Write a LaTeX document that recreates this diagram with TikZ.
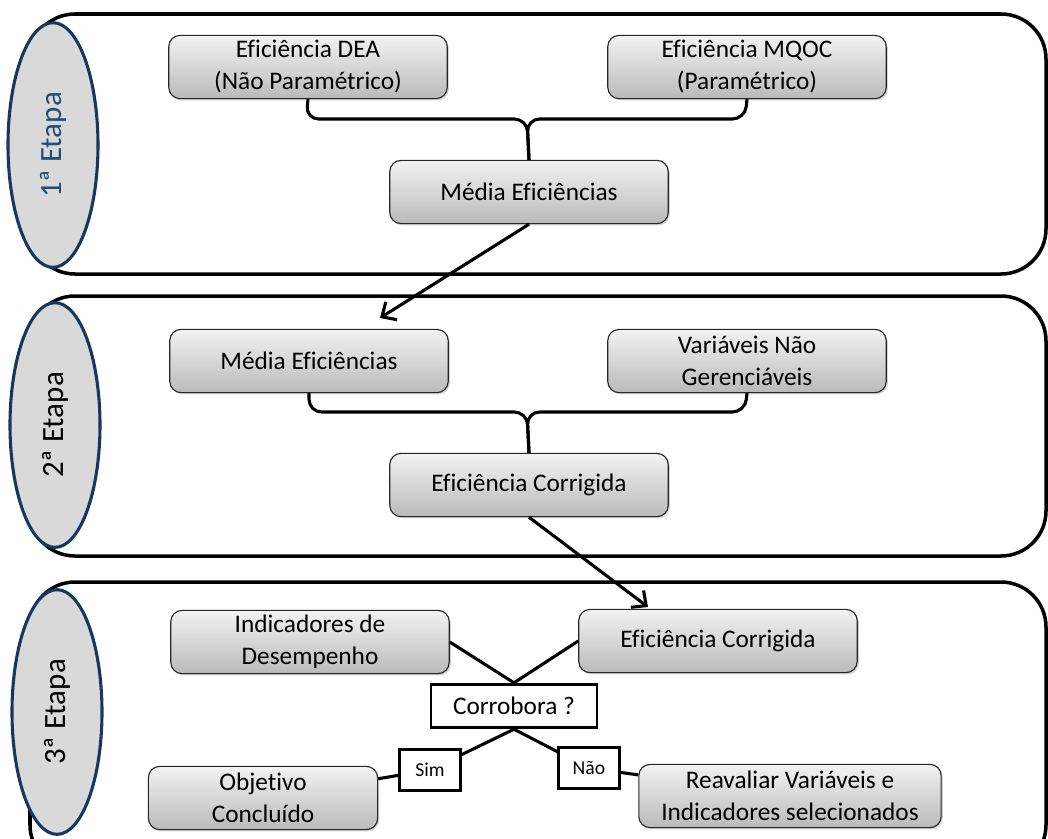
\documentclass[tikz,border=0pt]{standalone}
\usepackage{fontspec}
\setmainfont[Ligatures=NoCommon]{Carlito}
\usepackage{tikz}
\usetikzlibrary{arrows.meta,positioning,calc,shadows,shapes.geometric}

\definecolor{etapablue}{HTML}{17375E}
\definecolor{etapatext}{HTML}{1F4E79}

\begin{document}
\begin{tikzpicture}[
      x=0.025cm, y=-0.025cm,
      font=\fontsize{18}{22.7}\selectfont,
      panel/.style={draw, line width=2.5pt, rounded corners=32pt},
      etapa/.style={ellipse, draw=etapablue, line width=2.2pt, fill=black!15,
                    minimum width=64pt, minimum height=174pt, inner sep=0pt},
      box/.style={draw=black!85, line width=0.8pt, rounded corners=8pt,
                  align=center, top color=black!5, bottom color=black!27,
                  minimum width=198pt, minimum height=45pt, inner sep=2pt,
                  drop shadow={opacity=0.35, shadow xshift=1.2pt,
                               shadow yshift=-1.2pt}},
      question/.style={draw, line width=2pt, fill=white, minimum width=118pt,
                       minimum height=31pt, inner sep=2pt},
      answer/.style={draw, line width=2pt, fill=white, minimum width=43pt,
                     minimum height=29pt, inner sep=1pt,
                     font=\fontsize{14}{16}\selectfont},
      wire/.style={line width=2.2pt, rounded corners=9pt},
      link/.style={line width=2.2pt},
      >={Straight Barb[length=8pt, width=15pt, line width=2.2pt]}]

    \useasboundingbox (0,0) rectangle (1048,838);
    \clip (0,0) rectangle (1048,838);

    % stages
    \draw[panel] (30,14) rectangle (1046,274);
    \draw[panel] (30,296) rectangle (1046,556);
    \draw[panel] (30,582) rectangle (1046,870);

    \node[etapa] (et1) at (53,145)
      {\rotatebox{90}{\fontsize{22}{26}\selectfont\color{etapatext}1ª Etapa}};
    \node[etapa] (et2) at (55,425)
      {\rotatebox{90}{\fontsize{22}{26}\selectfont 2ª Etapa}};
    \node[etapa] (et3) at (57,712)
      {\rotatebox{90}{\fontsize{22}{26}\selectfont 3ª Etapa}};

    % 1a etapa
    \node[box] (dea) at (308,67) {Eficiência DEA\\(Não Paramétrico)};
    \node[box] (mqoc) at (747,67) {Eficiência MQOC\\(Paramétrico)};
    \node[box] (media) at (529,192) {Média Eficiências};

    \draw[wire] (dea.south) -- (306,119) -- (527,119) -- (media.north);
    \draw[wire] (mqoc.south) -- (745,119) -- (527,119) -- (media.north);

    % 2a etapa
    \node[box] (media2) at (309,361) {Média Eficiências};
    \node[box] (naoger) at (747,361) {Variáveis Não\\Gerenciáveis};
    \node[box] (corrig) at (529,485) {Eficiência Corrigida};

    \draw[wire] (media2.south) -- (309,412) -- (527,412) -- (corrig.north);
    \draw[wire] (naoger.south) -- (745,412) -- (527,412) -- (corrig.north);

    \coordinate (in2) at (380,318);
    \coordinate (in3) at (648,607);
    \draw[link, ->] (media.south) -- (in2);
    \draw[link, ->] (corrig.south) -- (in3);

    % 3a etapa
    \node[box] (indic) at (310,642) {Indicadores de\\Desempenho};
    \node[box] (corrig2) at (718,641) {Eficiência Corrigida};
    \node[question] (corrob) at (514,706) {Corrobora ?};
    \node[answer] (sim) at (430,770) {Sim};
    \node[answer] (nao) at (589,768) {Não};
    \node[box, minimum width=163pt] (objet) at (263,798) {Objetivo\\Concluído};
    \node[box, minimum width=215pt] (reaval) at (790,796)
      {Reavaliar Variáveis e\\Indicadores selecionados};

    \draw[link] (indic.east) -- (corrob.north);
    \draw[link] (corrig2.west) -- (corrob.north);
    \draw[link] (corrob.south) -- (sim);
    \draw[link] (corrob.south) -- (nao);
    \draw[link] (sim) -- (objet);
    \draw[link] (nao) -- (reaval);
  \end{tikzpicture}
\end{document}
